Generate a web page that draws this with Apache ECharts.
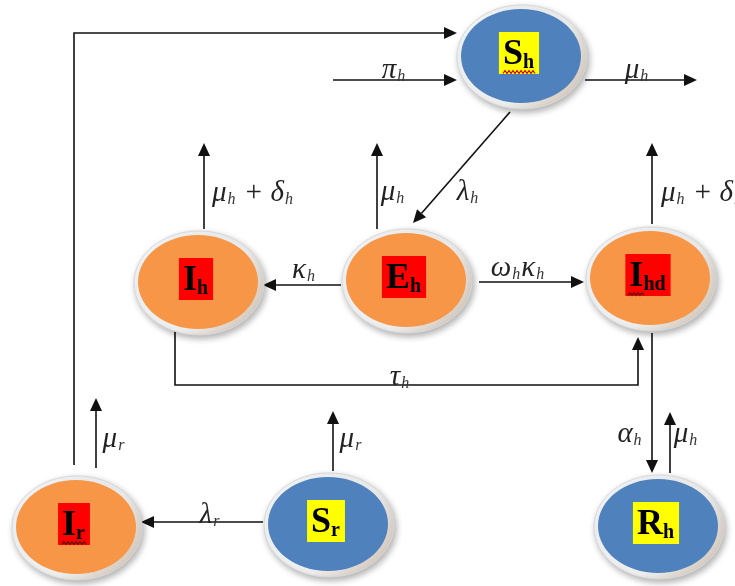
<!DOCTYPE html>
<html><head><meta charset="utf-8">
<script src="https://cdn.jsdelivr.net/npm/echarts@6/dist/echarts.min.js"></script>
<style>html,body{margin:0;padding:0;background:#fff}#c{width:735px;height:586px}</style>
</head><body><div id="c"></div>
<script>
// ---- Compartments ----
const nodeIds   = ['Sh', 'Eh', 'Ih', 'Ihd', 'Ir', 'Sr', 'Rh'];
const nodeMain  = ['S', 'E', 'I', 'I', 'I', 'S', 'R'];
const nodeSub   = ['h', 'h', 'h', 'hd', 'r', 'r', 'h'];
const nodeClass = ['sus', 'inf', 'inf', 'inf', 'inf', 'sus', 'sus'];
const nodeSpell = [1, 0, 0, 1, 1, 0, 0];   // red wavy underline present
const nodeX     = [522, 407, 199, 651, 77, 329, 659];
const nodeY     = [57, 281, 283, 279, 528, 525, 527];

// ---- Flows (diagram units, y grows downward) ----
const flowPaths = [
  [[74, 465], [74, 33], [457, 33]],            // I_r -> S_h
  [[333, 80], [457, 80]],                       // recruitment pi_h
  [[585, 80], [697, 80]],                       // S_h death
  [[510, 112], [413, 223]],                     // S_h -> E_h
  [[377, 229], [377, 143]],                     // E_h death
  [[204, 229], [204, 143]],                     // I_h death
  [[652, 224], [652, 143]],                     // I_hd death
  [[341, 285], [263, 285]],                     // E_h -> I_h
  [[479, 282], [584, 282]],                     // E_h -> I_hd
  [[175, 327], [175, 385], [638, 385], [638, 337]], // I_h -> I_hd
  [[652, 333], [652, 473]],                     // I_hd -> R_h
  [[670, 473], [670, 412]],                     // R_h death
  [[96, 468], [96, 398]],                       // I_r death
  [[333, 471], [333, 411]],                     // S_r death
  [[263, 522], [141, 522]]                      // S_r -> I_r
];
const flowLabels = ['', 'π_h', 'μ_h', 'λ_h', 'μ_h', 'μ_h + δ_h', 'μ_h + δ_h', 'κ_h',
                    'ω_hκ_h', 'τ_h', 'α_h', 'μ_h', 'μ_r', 'μ_r', 'λ_r'];
const flowLabelX = [0, 394, 637, 468, 393, 253, 702, 304, 518, 400, 630, 686, 114, 351, 210];
const flowLabelY = [0, 70, 70, 192, 192, 193, 193, 270, 268, 377, 434, 434, 439, 439, 515];

// ---- helpers ----
function toRich(s) {
  let out = '', buf = '';
  for (let i = 0; i < s.length; i++) {
    if (s[i] === '_') {
      if (buf) out += '{m|' + buf + '}';
      buf = '';
      out += '{s|' + s[i + 1] + '}';
      i++;
    } else buf += s[i];
  }
  if (buf) out += '{m|' + buf + '}';
  return out;
}
const INK = '#111';
const ARROW_L = 13, ARROW_W = 6;
const fillOf = { sus: '#4F81BD', inf: '#F79646' };
const boxOf = { sus: '#FFFF00', inf: '#FF0000' };
const waveOf = { sus: '#d40000', inf: '#5a0000' };

const chart = echarts.init(document.getElementById('c'), null, { renderer: 'canvas' });

chart.setOption({
  animation: false,
  backgroundColor: '#ffffff',
  grid: { left: 0, right: 0, top: 0, bottom: 0 },
  xAxis: { type: 'value', min: 0, max: 735, show: false },
  yAxis: { type: 'value', min: 0, max: 586, inverse: true, show: false },
  series: [
    {
      type: 'custom',
      coordinateSystem: 'cartesian2d',
      silent: true,
      data: flowLabels.map((l, i) => [flowLabelX[i], flowLabelY[i]]),
      renderItem: function (params, api) {
        const i = params.dataIndex;
        const pts = flowPaths[i].map(p => api.coord(p));
        const n = pts.length;
        const a = pts[n - 2], b = pts[n - 1];
        const dx = b[0] - a[0], dy = b[1] - a[1];
        const len = Math.sqrt(dx * dx + dy * dy);
        const ux = dx / len, uy = dy / len;
        const base = [b[0] - ux * ARROW_L, b[1] - uy * ARROW_L];
        const linePts = pts.slice(0, n - 1).concat([base]);
        const children = [
          { type: 'polyline', shape: { points: linePts },
            style: { stroke: INK, lineWidth: 1.6, fill: null } },
          { type: 'polygon', shape: { points: [
              b,
              [base[0] - uy * ARROW_W, base[1] + ux * ARROW_W],
              [base[0] + uy * ARROW_W, base[1] - ux * ARROW_W]] },
            style: { fill: INK } }
        ];
        if (flowLabels[i]) {
          const c = api.coord([api.value(0), api.value(1)]);
          children.push({
            type: 'text', x: c[0], y: c[1],
            style: {
              text: toRich(flowLabels[i]),
              align: 'center', verticalAlign: 'middle', fill: '#222',
              rich: {
                m: { fontFamily: 'Liberation Serif', fontStyle: 'italic', fontSize: 29,
                     lineHeight: 29, padding: [0, 0, 16, 0], verticalAlign: 'top', fill: '#222' },
                s: { fontFamily: 'Liberation Serif', fontStyle: 'italic', fontSize: 16,
                     lineHeight: 16, padding: [0, 1, 0, 1], verticalAlign: 'bottom', fill: '#333' }
              }
            }
          });
        }
        return { type: 'group', children: children };
      }
    },
    {
      type: 'custom',
      coordinateSystem: 'cartesian2d',
      silent: true,
      data: nodeIds.map((id, i) => [nodeX[i], nodeY[i]]),
      renderItem: function (params, api) {
        const i = params.dataIndex;
        const c = api.coord([api.value(0), api.value(1)]);
        const outer = api.size([65, 52]);
        const inner = api.size([60, 47]);
        const cls = nodeClass[i];
        const tx = c[0] - 3, ty = c[1] - 4;
        const children = [
          { type: 'ellipse', shape: { cx: c[0], cy: c[1], rx: outer[0], ry: outer[1] },
            style: { fill: {
                type: 'linear', x: 0, y: 0, x2: 1, y2: 1,
                colorStops: [{ offset: 0, color: '#f7fbff' }, { offset: 0.6, color: '#eeeeee' },
                             { offset: 1, color: '#c9b9a8' }] },
              stroke: '#d8d8d8', lineWidth: 1,
              shadowBlur: 6, shadowOffsetX: 2, shadowOffsetY: 3,
              shadowColor: 'rgba(0,0,0,0.3)' } },
          { type: 'ellipse', shape: { cx: c[0] - 1, cy: c[1] - 1, rx: inner[0], ry: inner[1] },
            style: { fill: fillOf[cls] } },
          { type: 'text', x: tx, y: ty,
            style: {
              text: '{m|' + nodeMain[i] + '}{s|' + nodeSub[i] + '}',
              align: 'center', verticalAlign: 'middle',
              backgroundColor: boxOf[cls], padding: [5, 5, 1, 4],
              rich: {
                m: { fontFamily: 'Liberation Serif', fontWeight: 'bold', fontSize: 36,
                     lineHeight: 36, fill: '#000' },
                s: { fontFamily: 'Liberation Serif', fontWeight: 'bold', fontSize: 20,
                     lineHeight: 20, verticalAlign: 'bottom', fill: '#000' }
              }
            } }
        ];
        if (nodeSpell[i]) {
          const w = nodeSub[i] === 'hd' ? 16 : (cls === 'inf' ? 24 : 32);
          const x0 = nodeSub[i] === 'hd' ? tx - 20 : tx - w / 2;
          const yb = ty + 19;
          const wave = [];
          for (let k = 0; k <= w; k += 2) wave.push([x0 + k, yb + ((k / 2) % 2 ? -1.5 : 1.5)]);
          children.push({ type: 'polyline', shape: { points: wave },
            style: { stroke: waveOf[cls], lineWidth: 1.2, fill: null } });
        }
        return { type: 'group', children: children };
      }
    }
  ]
});
</script>
</body></html>
